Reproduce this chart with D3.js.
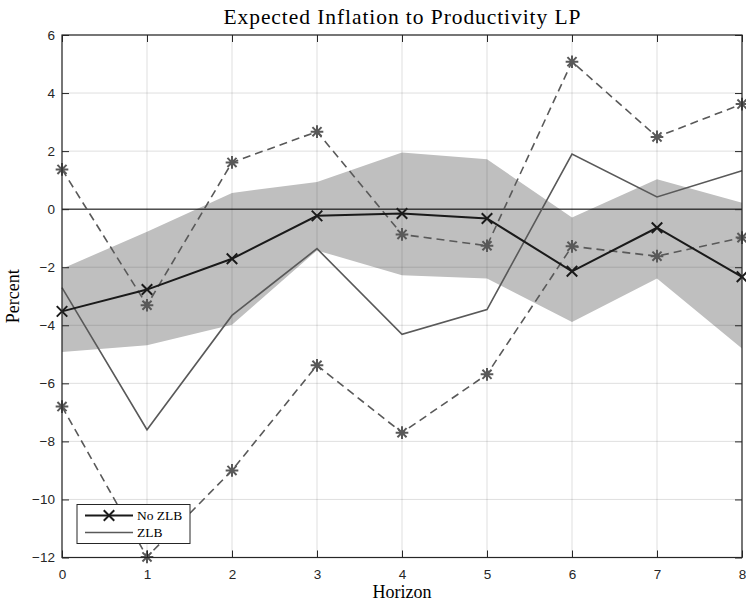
<!DOCTYPE html>
<html>
<head>
<meta charset="utf-8">
<script src="https://cdn.jsdelivr.net/npm/d3@7"></script>
<style>
  body { margin: 0; background: #fff; }
  .tick text { font-family: "Liberation Sans", Arial, sans-serif; font-size: 13.5px; fill: #262626; }
  .lbl { font-family: "Liberation Serif", "Times New Roman", serif; fill: #000; }
</style>
</head>
<body>
<div id="chart"></div>
<script>
const horizon = [0, 1, 2, 3, 4, 5, 6, 7, 8];
const noZlb = [-3.52, -2.77, -1.71, -0.23, -0.15, -0.32, -2.14, -0.64, -2.33];
const zlb = [-2.70, -7.60, -3.66, -1.36, -4.31, -3.46, 1.90, 0.42, 1.32];
const zlbUpper = [1.37, -3.31, 1.61, 2.67, -0.87, -1.26, 5.08, 2.49, 3.62];
const zlbLower = [-6.80, -11.98, -9.00, -5.38, -7.70, -5.69, -1.28, -1.62, -0.98];
const bandUpper = [-2.05, -0.78, 0.56, 0.94, 1.95, 1.72, -0.29, 1.03, 0.22];
const bandLower = [-4.92, -4.69, -3.98, -1.42, -2.28, -2.39, -3.89, -2.39, -4.80];
const xTicks = [0, 1, 2, 3, 4, 5, 6, 7, 8];
const yTicks = [-12, -10, -8, -6, -4, -2, 0, 2, 4, 6];
const legendItems = ["No ZLB", "ZLB"];

const width = 746, height = 606;
const margin = { top: 35, right: 4, bottom: 48.5, left: 62 };

const svg = d3.select('#chart').append('svg')
  .attr('width', width)
  .attr('height', height);

const x = d3.scaleLinear().domain([0, 8]).range([margin.left, width - margin.right]);
const y = d3.scaleLinear().domain([-12, 6]).range([height - margin.bottom, margin.top]);

const axisColor = '#262626';
const gray = '#595959';

// shaded band
const area = d3.area()
  .x(d => x(d.h))
  .y0(d => y(d.lo))
  .y1(d => y(d.hi));
svg.append('path')
  .datum(horizon.map((h, i) => ({ h, lo: bandLower[i], hi: bandUpper[i] })))
  .attr('d', area)
  .attr('fill', '#bfbfbf');

// grid
const grid = svg.append('g').attr('stroke', 'rgba(38,38,38,0.15)').attr('stroke-width', 1);
grid.selectAll('.gx').data(xTicks).enter().append('line')
  .attr('x1', d => x(d)).attr('x2', d => x(d))
  .attr('y1', y(-12)).attr('y2', y(6));
grid.selectAll('.gy').data(yTicks).enter().append('line')
  .attr('x1', x(0)).attr('x2', x(8))
  .attr('y1', d => y(d)).attr('y2', d => y(d));

// zero line
svg.append('line')
  .attr('x1', x(0)).attr('x2', x(8))
  .attr('y1', y(0)).attr('y2', y(0))
  .attr('stroke', '#000').attr('stroke-width', 1);

const line = d3.line().x((d, i) => x(horizon[i])).y(d => y(d));

// MATLAB-like '*' marker (+ and x together)
const starSymbol = {
  draw(ctx, size) {
    const r = Math.sqrt(size) / 2, q = r * 0.72;
    ctx.moveTo(-r, 0); ctx.lineTo(r, 0);
    ctx.moveTo(0, -r); ctx.lineTo(0, r);
    ctx.moveTo(-q, -q); ctx.lineTo(q, q);
    ctx.moveTo(-q, q); ctx.lineTo(q, -q);
  }
};
const crossSymbol = {
  draw(ctx, size) {
    const r = Math.sqrt(size) / 2;
    ctx.moveTo(-r, -r); ctx.lineTo(r, r);
    ctx.moveTo(-r, r); ctx.lineTo(r, -r);
  }
};

function drawSeries(values, opts) {
  const g = svg.append('g');
  g.append('path')
    .datum(values)
    .attr('d', line)
    .attr('fill', 'none')
    .attr('stroke', opts.color)
    .attr('stroke-width', opts.width)
    .attr('stroke-dasharray', opts.dash || null);
  if (opts.symbol) {
    g.selectAll('path.m')
      .data(values)
      .enter()
      .append('path')
      .attr('class', 'm')
      .attr('transform', (d, i) => `translate(${x(horizon[i])},${y(d)})`)
      .attr('d', d3.symbol().type(opts.symbol).size(opts.size))
      .attr('fill', 'none')
      .attr('stroke', opts.color)
      .attr('stroke-width', opts.mwidth || opts.width);
  }
}

drawSeries(zlbUpper, { color: gray, width: 1.6, dash: '8,5', symbol: starSymbol, size: 160, mwidth: 2 });
drawSeries(zlbLower, { color: gray, width: 1.6, dash: '8,5', symbol: starSymbol, size: 160, mwidth: 2 });
drawSeries(zlb, { color: gray, width: 1.6 });
drawSeries(noZlb, { color: '#1a1a1a', width: 2, symbol: crossSymbol, size: 110 });

// axes box with inward ticks
const tickLen = 7;
svg.append('g')
  .attr('transform', `translate(0,${y(-12)})`)
  .call(d3.axisBottom(x).tickValues(xTicks).tickSizeInner(-tickLen).tickSizeOuter(0).tickPadding(12))
  .call(g => g.select('.domain').remove());
svg.append('g')
  .attr('transform', `translate(${x(0)},0)`)
  .call(d3.axisLeft(y).tickValues(yTicks).tickSizeInner(-tickLen).tickSizeOuter(0).tickPadding(7))
  .call(g => g.select('.domain').remove());
svg.append('g')
  .attr('transform', `translate(0,${y(6)})`)
  .call(d3.axisTop(x).tickValues(xTicks).tickSizeInner(-tickLen).tickSizeOuter(0).tickFormat(''))
  .call(g => g.select('.domain').remove());
svg.append('g')
  .attr('transform', `translate(${x(8)},0)`)
  .call(d3.axisRight(y).tickValues(yTicks).tickSizeInner(-tickLen).tickSizeOuter(0).tickFormat(''))
  .call(g => g.select('.domain').remove());
svg.selectAll('.tick line').attr('stroke', axisColor);
svg.append('rect')
  .attr('x', x(0)).attr('y', y(6))
  .attr('width', x(8) - x(0)).attr('height', y(-12) - y(6))
  .attr('fill', 'none').attr('stroke', axisColor).attr('stroke-width', 1.2);

// labels
svg.append('text').attr('class', 'lbl')
  .attr('x', (x(0) + x(8)) / 2).attr('y', 24)
  .attr('text-anchor', 'middle').style('font-size', '21.5px')
  .attr('textLength', 357).attr('lengthAdjust', 'spacing')
  .text('Expected Inflation to Productivity LP');
svg.append('text').attr('class', 'lbl')
  .attr('x', (x(0) + x(8)) / 2).attr('y', 598)
  .attr('text-anchor', 'middle').style('font-size', '18px')
  .text('Horizon');
svg.append('text').attr('class', 'lbl')
  .attr('transform', `translate(19,${(y(6) + y(-12)) / 2}) rotate(-90)`)
  .attr('text-anchor', 'middle').style('font-size', '18px')
  .text('Percent');

// legend
const lg = svg.append('g').attr('transform', 'translate(77,504.5)');
lg.append('rect').attr('width', 113).attr('height', 39)
  .attr('fill', '#fff').attr('stroke', axisColor).attr('stroke-width', 1);
const legendStyles = [
  { color: '#1a1a1a', width: 2, symbol: crossSymbol },
  { color: gray, width: 1.6, symbol: null }
];
legendItems.forEach((name, i) => {
  const yy = 11 + i * 17;
  const st = legendStyles[i];
  lg.append('line').attr('x1', 8).attr('x2', 56).attr('y1', yy).attr('y2', yy)
    .attr('stroke', st.color).attr('stroke-width', st.width);
  if (st.symbol) {
    lg.append('path').attr('transform', `translate(32,${yy})`)
      .attr('d', d3.symbol().type(st.symbol).size(110))
      .attr('fill', 'none').attr('stroke', st.color).attr('stroke-width', st.width);
  }
  lg.append('text').attr('class', 'lbl')
    .attr('x', 60).attr('y', yy + 4.5)
    .style('font-size', '13.5px')
    .text(name);
});
</script>
</body>
</html>
